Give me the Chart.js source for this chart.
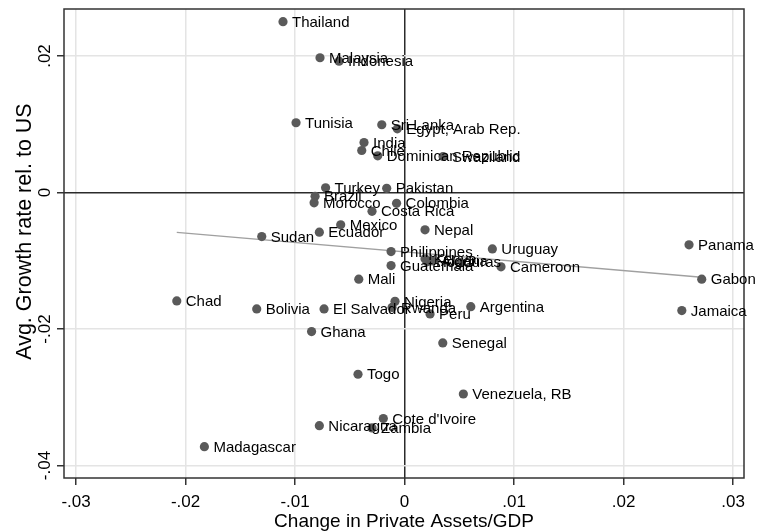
<!DOCTYPE html>
<html>
<head>
<meta charset="utf-8">
<script src="https://cdn.jsdelivr.net/npm/chart.js@4"></script>
<style>
  body { margin: 0; background: #fff; }
  #wrap { width: 758px; height: 531px; }
</style>
</head>
<body>
<div id="wrap"><canvas id="chart-assets" width="758" height="531"></canvas></div>
<script>
// ----- DATA ----- //
// ---------------- //

const country_list = ['Thailand', 'Malaysia', 'Indonesia', 'Tunisia', 'Sri Lanka', 'Egypt, Arab Rep.',
  'India', 'Chile', 'Dominican Republic', 'Swaziland', 'Turkey', 'Pakistan', 'Brazil', 'Morocco',
  'Colombia', 'Costa Rica', 'Mexico', 'Ecuador', 'Nepal', 'Sudan', 'Philippines', 'Uruguay',
  'Guatemala', 'Kenya', 'Honduras', 'Algeria', 'Cameroon', 'Mali', 'Chad', 'Bolivia', 'El Salvador',
  'Nigeria', 'Rwanda', 'Peru', 'Argentina', 'Ghana', 'Senegal', 'Togo', 'Venezuela, RB',
  "Cote d'Ivoire", 'Nicaragua', 'Zambia', 'Madagascar', 'Panama', 'Gabon', 'Jamaica'];

// change in private assets / GDP
const assets_list = [-0.0111, -0.00772, -0.00598, -0.00991, -0.00208, -0.00066,
  -0.0037, -0.00391, -0.00245, 0.00352, -0.00721, -0.00163, -0.00817, -0.00826,
  -0.00073, -0.00297, -0.00583, -0.00778, 0.00187, -0.01304, -0.00123, 0.00802,
  -0.00123, 0.00187, 0.00205, 0.00251, 0.00881, -0.00418, -0.0208, -0.0135, -0.00735,
  -0.00087, -0.00114, 0.00233, 0.00605, -0.00849, 0.00349, -0.00425, 0.00537,
  -0.00194, -0.00778, -0.00297, -0.01828, 0.02598, 0.02714, 0.02532];

// avg growth rate relative to US
const growth_list = [0.02503, 0.01975, 0.01924, 0.01022, 0.00993, 0.00934,
  0.00733, 0.00616, 0.00538, 0.00528, 0.00069, 0.00062, -0.00056, -0.00151,
  -0.00158, -0.00276, -0.00474, -0.00581, -0.00547, -0.00645, -0.00865, -0.00826,
  -0.0107, -0.00972, -0.01016, -0.01001, -0.01089, -0.0127, -0.01588, -0.01705, -0.01705,
  -0.01595, -0.01683, -0.01779, -0.01672, -0.02038, -0.02204, -0.02663, -0.02952,
  -0.03311, -0.03416, -0.0345, -0.03724, -0.00767, -0.0127, -0.0173];

// fitted line end points
const fit_x = [-0.0208, 0.02714];
const fit_y = [-0.00584, -0.01243];

const x_tick_values = [-0.03, -0.02, -0.01, 0, 0.01, 0.02, 0.03];
const x_tick_labels = ['-.03', '-.02', '-.01', '0', '.01', '.02', '.03'];
const y_tick_values = [-0.04, -0.02, 0, 0.02];
const y_tick_labels = ['-.04', '-.02', '0', '.02'];





// ----- PLUGINS ----- //
// ------------------- //

const font_family = 'Helvetica, Arial, "Liberation Sans", sans-serif';

// Country names right of each marker
const pointLabels = {
  id: 'pointLabels',
  afterDatasetsDraw(chart) {
    const ctx = chart.ctx;
    const meta = chart.getDatasetMeta(1);
    ctx.save();
    ctx.font = '15px ' + font_family;
    ctx.fillStyle = '#000';
    ctx.textBaseline = 'middle';
    meta.data.forEach((point, i) => {
      ctx.fillText(country_list[i], point.x + 9, point.y + 1);
    });
    ctx.restore();
  }
};

// Box round the plot region
const plotBox = {
  id: 'plotBox',
  beforeDatasetsDraw(chart) {
    const a = chart.chartArea;
    const ctx = chart.ctx;
    ctx.save();
    ctx.strokeStyle = '#333';
    ctx.lineWidth = 1.5;
    ctx.strokeRect(a.left, a.top, a.right - a.left, a.bottom - a.top);
    ctx.restore();
  }
};





// ----- CREATE CHART ----- //
// ------------------------ //

function gridColor(context) {
  return context.tick && context.tick.value === 0 ? '#2b2b2b' : '#e4e4e4';
}

function chartAssetsGrowth() {
  Chart.defaults.font.family = font_family;
  Chart.defaults.color = '#000';

  const points = assets_list.map((x, i) => ({x: x, y: growth_list[i]}));
  const fit = fit_x.map((x, i) => ({x: x, y: fit_y[i]}));

  new Chart(document.getElementById("chart-assets").getContext('2d'), {
    type: 'scatter',
    data: {
      datasets: [
        {
          type: 'line',
          data: fit,
          borderColor: '#a0a0a0',
          borderWidth: 1.5,
          pointRadius: 0,
          fill: false,
          order: 2,
        },
        {
          data: points,
          backgroundColor: '#5a5a5a',
          borderWidth: 0,
          pointRadius: 4.6,
          order: 1,
        }
      ]
    },
    options: {
      responsive: false,
      animation: false,
      layout: {padding: {left: 0, top: 9, right: 14, bottom: 0}},
      plugins: {legend: {display: false}, tooltip: {enabled: false}},
      scales: {
        x: {
          type: 'linear',
          min: -0.0311,
          max: 0.031,
          afterBuildTicks: (scale) => { scale.ticks = x_tick_values.map(v => ({value: v})); },
          afterFit: (scale) => { scale.height = 53; },
          ticks: {
            callback: (value, index) => x_tick_labels[index],
            font: {size: 17},
            padding: 7,
            maxRotation: 0,
            autoSkip: false,
          },
          grid: {color: gridColor, lineWidth: 1.5, tickColor: '#333', tickLength: 7},
          border: {display: false},
          title: {display: true, text: 'Change in Private Assets/GDP', font: {size: 19}, padding: {top: 0, bottom: -2}},
        },
        y: {
          type: 'linear',
          min: -0.04183,
          max: 0.02689,
          afterBuildTicks: (scale) => { scale.ticks = y_tick_values.map(v => ({value: v})); },
          afterFit: (scale) => { scale.width = 64; },
          ticks: {
            callback: (value, index) => y_tick_labels[index],
            font: {size: 17},
            padding: -3,
            minRotation: 90,
            maxRotation: 90,
            crossAlign: 'center',
            autoSkip: false,
          },
          grid: {color: gridColor, lineWidth: 1.5, tickColor: '#333', tickLength: 7},
          border: {display: false},
          // leading spaces lift the title a little, as in the original
          title: {display: true, text: '    Avg. Growth rate rel. to US', font: {size: 21.5}, padding: {top: 12, bottom: 0}},
        }
      }
    },
    plugins: [plotBox, pointLabels]
  });
}

chartAssetsGrowth()
</script>
</body>
</html>
